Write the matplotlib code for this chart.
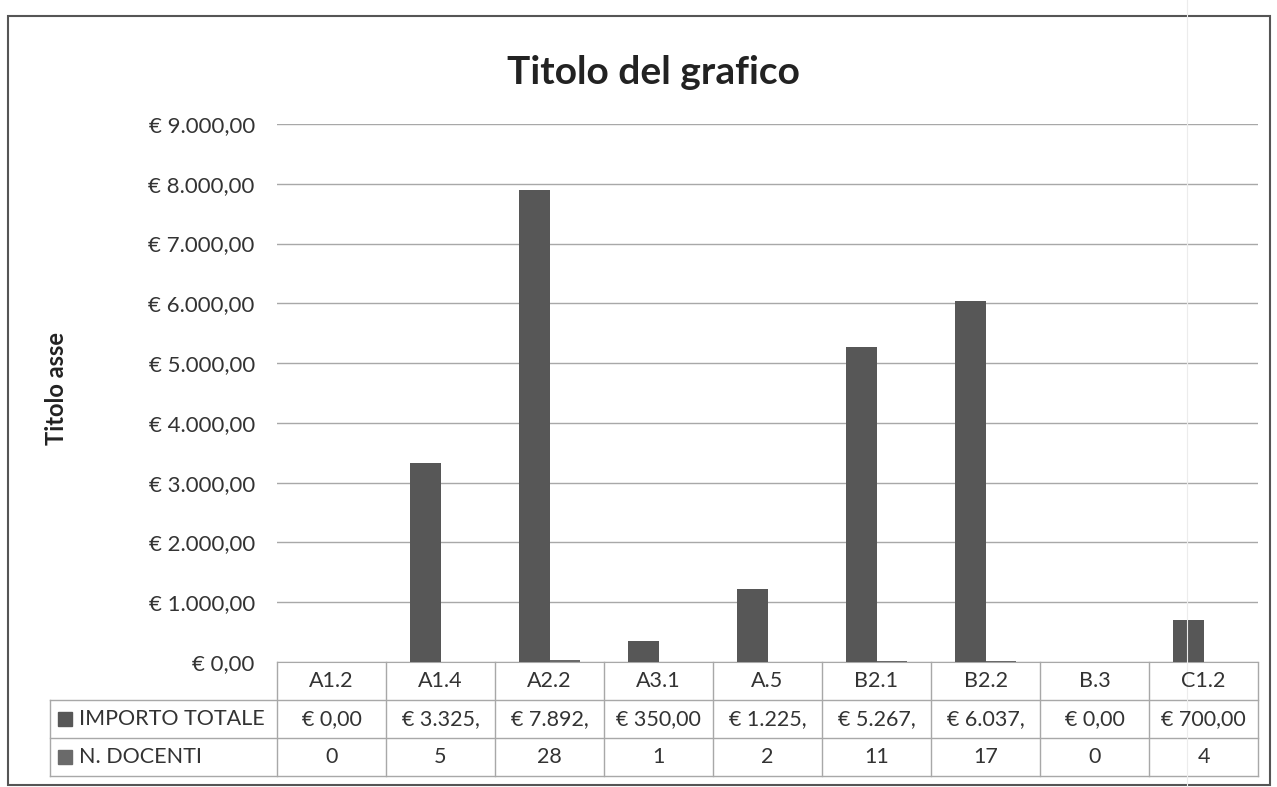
import numpy as np
import matplotlib
matplotlib.use('Agg')
import matplotlib.pyplot as plt
from matplotlib.lines import Line2D
from matplotlib.patches import Rectangle
from matplotlib.transforms import blended_transform_factory

# dati
categorie = ['A1.2', 'A1.4', 'A2.2', 'A3.1', 'A.5', 'B2.1', 'B2.2', 'B.3', 'C1.2']
importo = [0, 3325, 7892, 350, 1225, 5267, 6037, 0, 700]
docenti = [0, 5, 28, 1, 2, 11, 17, 0, 4]
serie = ['IMPORTO TOTALE', 'N. DOCENTI']
colori = ['#575757', '#6a6a6a']
yticks = np.arange(0, 9001, 1000)

plt.rcParams['font.family'] = ['Lato', 'DejaVu Sans']


def euro(v):
    s = f'{v:,.2f}'.replace(',', 'X').replace('.', ',').replace('X', '.')
    return '€ ' + s


def cella(v):
    # excel taglia il testo che non entra nella cella
    s = euro(v)
    return s[:8]


W, H = 1277, 787
fig = plt.figure(figsize=(W / 100, H / 100), dpi=100)


def fx(px):
    return px / W


def fy(py):
    return 1 - py / H


ax = fig.add_axes([fx(277), fy(662), fx(1258) - fx(277), fy(124) - fy(662)])

x = np.arange(len(categorie))
w = 0.28
ax.bar(x - w / 2, importo, w, color=colori[0], zorder=3)
ax.bar(x + w / 2, docenti, w, color=colori[1], zorder=3)
ax.set_xlim(-0.5, len(categorie) - 0.5)
ax.set_ylim(0, 9000)
ax.set_yticks(yticks)
ax.set_yticklabels([euro(v) for v in yticks])
ax.yaxis.grid(True, color='#a8a8a8', lw=1)
ax.set_axisbelow(True)
ax.tick_params(axis='y', length=0, pad=16, labelsize=16, labelcolor='#333333')
ax.set_xticks([])
for s in ['top', 'right', 'left']:
    ax.spines[s].set_visible(False)
ax.spines['bottom'].set_color('#a8a8a8')

fig.text(fx(653), fy(73), 'Titolo del grafico', ha='center', va='center',
         fontsize=28, fontweight='bold', color='#222222')
fig.text(fx(57), fy(389), 'Titolo asse', ha='center', va='center', rotation=90,
         fontsize=17, fontweight='bold', color='#222222')

# tabella dati sotto il grafico
bt = blended_transform_factory(ax.transData, fig.transFigure)
lc = '#a8a8a8'
for i in range(len(categorie) + 1):
    fig.add_artist(Line2D([i - 0.5, i - 0.5], [fy(662), fy(776)], transform=bt, color=lc, lw=1))
for py in [700, 738, 776]:
    fig.add_artist(Line2D([fx(50), fx(1258)], [fy(py), fy(py)], transform=fig.transFigure, color=lc, lw=1))
fig.add_artist(Line2D([fx(50), fx(50)], [fy(700), fy(776)], transform=fig.transFigure, color=lc, lw=1))

for i, c in enumerate(categorie):
    fig.text(i, fy(681), c, transform=bt, ha='center', va='center', fontsize=15.5, color='#333333')
    fig.text(i, fy(719), cella(importo[i]), transform=bt, ha='center', va='center', fontsize=15.5, color='#333333')
    fig.text(i, fy(757), str(docenti[i]), transform=bt, ha='center', va='center', fontsize=15.5, color='#333333')

for k, (nome, py) in enumerate(zip(serie, [719, 757])):
    fig.add_artist(Rectangle((fx(58), fy(py) - 7 / H), fx(14), 14 / H, transform=fig.transFigure,
                             color=colori[k]))
    fig.text(fx(79), fy(py), nome, ha='left', va='center', fontsize=15.5, color='#333333')

# cornice esterna e piega del foglio
fig.add_artist(Rectangle((fx(8), fy(785)), fx(1270) - fx(8), fy(16) - fy(785),
                         transform=fig.transFigure, fill=False, ec='#555555', lw=1.5))
fig.add_artist(Line2D([fx(1187), fx(1187)], [0, 1], transform=fig.transFigure, color='#ececec', lw=0.8))

fig.savefig('out.png', dpi=100)
